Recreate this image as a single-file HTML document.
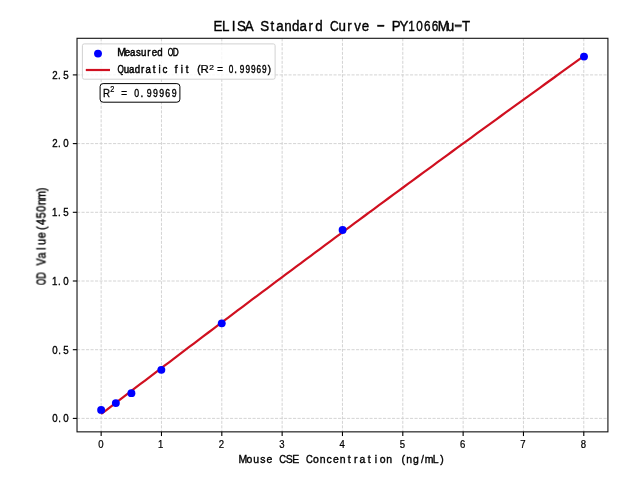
<!DOCTYPE html>
<html><head><meta charset="utf-8"><style>
html,body{margin:0;padding:0;background:#fff;width:640px;height:480px;overflow:hidden}
svg{display:block}
text{will-change:transform}
</style></head><body>
<svg width="640" height="480" viewBox="0 0 640 480">
<rect x="0" y="0" width="640" height="480" fill="#fff"/>
<g stroke="#cfcfcf" stroke-width="0.9" stroke-dasharray="3.1 1.4"><line x1="101.15" y1="38.3" x2="101.15" y2="431.85"/><line x1="161.48" y1="38.3" x2="161.48" y2="431.85"/><line x1="221.81" y1="38.3" x2="221.81" y2="431.85"/><line x1="282.14" y1="38.3" x2="282.14" y2="431.85"/><line x1="342.47" y1="38.3" x2="342.47" y2="431.85"/><line x1="402.80" y1="38.3" x2="402.80" y2="431.85"/><line x1="463.13" y1="38.3" x2="463.13" y2="431.85"/><line x1="523.46" y1="38.3" x2="523.46" y2="431.85"/><line x1="583.79" y1="38.3" x2="583.79" y2="431.85"/><line x1="77.02" y1="418.40" x2="607.92" y2="418.40"/><line x1="77.02" y1="349.70" x2="607.92" y2="349.70"/><line x1="77.02" y1="281.00" x2="607.92" y2="281.00"/><line x1="77.02" y1="212.30" x2="607.92" y2="212.30"/><line x1="77.02" y1="143.60" x2="607.92" y2="143.60"/><line x1="77.02" y1="74.90" x2="607.92" y2="74.90"/></g>
<polyline points="101.15,414.00 106.03,410.27 110.90,406.55 115.78,402.82 120.65,399.10 125.53,395.38 130.40,391.66 135.28,387.95 140.15,384.24 145.03,380.53 149.90,376.82 154.78,373.11 159.65,369.41 164.53,365.71 169.40,362.01 174.28,358.31 179.15,354.62 184.03,350.93 188.90,347.24 193.78,343.55 198.65,339.87 203.53,336.18 208.40,332.50 213.28,328.83 218.15,325.15 223.03,321.48 227.90,317.81 232.78,314.14 237.65,310.48 242.53,306.81 247.40,303.15 252.28,299.49 257.15,295.84 262.03,292.18 266.91,288.53 271.78,284.88 276.66,281.23 281.53,277.59 286.41,273.95 291.28,270.31 296.16,266.67 301.03,263.03 305.91,259.40 310.78,255.77 315.66,252.14 320.53,248.52 325.41,244.89 330.28,241.27 335.16,237.65 340.03,234.04 344.91,230.42 349.78,226.81 354.66,223.20 359.53,219.59 364.41,215.99 369.28,212.39 374.16,208.79 379.03,205.19 383.91,201.59 388.78,198.00 393.66,194.41 398.53,190.82 403.41,187.24 408.28,183.65 413.16,180.07 418.03,176.49 422.91,172.92 427.79,169.34 432.66,165.77 437.54,162.20 442.41,158.63 447.29,155.07 452.16,151.51 457.04,147.95 461.91,144.39 466.79,140.83 471.66,137.28 476.54,133.73 481.41,130.18 486.29,126.63 491.16,123.09 496.04,119.55 500.91,116.01 505.79,112.47 510.66,108.94 515.54,105.41 520.41,101.88 525.29,98.35 530.16,94.83 535.04,91.30 539.91,87.78 544.79,84.26 549.66,80.75 554.54,77.24 559.41,73.73 564.29,70.22 569.16,66.71 574.04,63.21 578.91,59.71 583.79,56.21" fill="none" stroke="#d01020" stroke-width="2.2"/>
<g fill="#0000ff"><circle cx="101.15" cy="409.90" r="3.95"/><circle cx="115.85" cy="403.10" r="3.95"/><circle cx="131.40" cy="393.15" r="3.95"/><circle cx="161.35" cy="369.85" r="3.95"/><circle cx="221.75" cy="323.35" r="3.95"/><circle cx="342.60" cy="230.00" r="3.95"/><circle cx="584.00" cy="56.60" r="3.95"/></g>
<rect x="77.02" y="38.3" width="530.90" height="393.55" fill="none" stroke="#111" stroke-width="1.1"/>
<g stroke="#000" stroke-width="1.1"><line x1="101.15" y1="431.85" x2="101.15" y2="436.05"/><line x1="161.48" y1="431.85" x2="161.48" y2="436.05"/><line x1="221.81" y1="431.85" x2="221.81" y2="436.05"/><line x1="282.14" y1="431.85" x2="282.14" y2="436.05"/><line x1="342.47" y1="431.85" x2="342.47" y2="436.05"/><line x1="402.80" y1="431.85" x2="402.80" y2="436.05"/><line x1="463.13" y1="431.85" x2="463.13" y2="436.05"/><line x1="523.46" y1="431.85" x2="523.46" y2="436.05"/><line x1="583.79" y1="431.85" x2="583.79" y2="436.05"/><line x1="72.82" y1="418.40" x2="77.02" y2="418.40"/><line x1="72.82" y1="349.70" x2="77.02" y2="349.70"/><line x1="72.82" y1="281.00" x2="77.02" y2="281.00"/><line x1="72.82" y1="212.30" x2="77.02" y2="212.30"/><line x1="72.82" y1="143.60" x2="77.02" y2="143.60"/><line x1="72.82" y1="74.90" x2="77.02" y2="74.90"/></g>
<rect x="82.4" y="43.9" width="192.7" height="35.3" rx="1.8" ry="1.8" fill="#fff" fill-opacity="0.8" stroke="#d2d2d2" stroke-width="1"/>
<circle cx="98" cy="53.6" r="3.95" fill="#0000ff"/>
<line x1="85.8" y1="70" x2="110" y2="70" stroke="#d01020" stroke-width="2.2"/>
<rect x="100.1" y="83.6" width="79.8" height="18.6" rx="3" ry="3" fill="#fff" stroke="#000" stroke-width="1"/>
<g transform="translate(0,447.600)" style="font-family:'Liberation Sans',sans-serif;font-size:10.611px;stroke-width:0.25px" fill="#000" stroke="#000"><text transform="translate(98.13,0) scale(0.900,1)">0</text></g>
<g transform="translate(0,447.600)" style="font-family:'Liberation Sans',sans-serif;font-size:10.611px;stroke-width:0.25px" fill="#000" stroke="#000"><text transform="translate(158.10,0) scale(0.900,1)">1</text></g>
<g transform="translate(0,447.600)" style="font-family:'Liberation Sans',sans-serif;font-size:10.611px;stroke-width:0.25px" fill="#000" stroke="#000"><text transform="translate(218.68,0) scale(0.900,1)">2</text></g>
<g transform="translate(0,447.600)" style="font-family:'Liberation Sans',sans-serif;font-size:10.611px;stroke-width:0.25px" fill="#000" stroke="#000"><text transform="translate(279.13,0) scale(0.900,1)">3</text></g>
<g transform="translate(0,447.600)" style="font-family:'Liberation Sans',sans-serif;font-size:10.611px;stroke-width:0.25px" fill="#000" stroke="#000"><text transform="translate(339.60,0) scale(0.900,1)">4</text></g>
<g transform="translate(0,447.600)" style="font-family:'Liberation Sans',sans-serif;font-size:10.611px;stroke-width:0.25px" fill="#000" stroke="#000"><text transform="translate(399.77,0) scale(0.900,1)">5</text></g>
<g transform="translate(0,447.600)" style="font-family:'Liberation Sans',sans-serif;font-size:10.611px;stroke-width:0.25px" fill="#000" stroke="#000"><text transform="translate(460.00,0) scale(0.900,1)">6</text></g>
<g transform="translate(0,447.600)" style="font-family:'Liberation Sans',sans-serif;font-size:10.611px;stroke-width:0.25px" fill="#000" stroke="#000"><text transform="translate(520.32,0) scale(0.900,1)">7</text></g>
<g transform="translate(0,447.600)" style="font-family:'Liberation Sans',sans-serif;font-size:10.611px;stroke-width:0.25px" fill="#000" stroke="#000"><text transform="translate(580.73,0) scale(0.900,1)">8</text></g>
<g transform="translate(0,422.200)" style="font-family:'Liberation Sans',sans-serif;font-size:10.756px;stroke-width:0.35px" fill="#000" stroke="#000"><text transform="translate(52.37,0) scale(0.900,1)">0</text><text transform="translate(58.16,0) scale(0.900,1)">.</text><text transform="translate(63.24,0) scale(0.900,1)">0</text></g>
<g transform="translate(0,353.500)" style="font-family:'Liberation Sans',sans-serif;font-size:10.756px;stroke-width:0.35px" fill="#000" stroke="#000"><text transform="translate(52.37,0) scale(0.900,1)">0</text><text transform="translate(58.16,0) scale(0.900,1)">.</text><text transform="translate(63.27,0) scale(0.900,1)">5</text></g>
<g transform="translate(0,284.800)" style="font-family:'Liberation Sans',sans-serif;font-size:10.756px;stroke-width:0.35px" fill="#000" stroke="#000"><text transform="translate(52.01,0) scale(0.900,1)">1</text><text transform="translate(58.04,0) scale(0.900,1)">.</text><text transform="translate(63.24,0) scale(0.900,1)">0</text></g>
<g transform="translate(0,216.100)" style="font-family:'Liberation Sans',sans-serif;font-size:10.756px;stroke-width:0.35px" fill="#000" stroke="#000"><text transform="translate(52.01,0) scale(0.900,1)">1</text><text transform="translate(58.05,0) scale(0.900,1)">.</text><text transform="translate(63.27,0) scale(0.900,1)">5</text></g>
<g transform="translate(0,147.400)" style="font-family:'Liberation Sans',sans-serif;font-size:10.756px;stroke-width:0.35px" fill="#000" stroke="#000"><text transform="translate(52.26,0) scale(0.900,1)">2</text><text transform="translate(58.10,0) scale(0.900,1)">.</text><text transform="translate(63.24,0) scale(0.900,1)">0</text></g>
<g transform="translate(0,78.700)" style="font-family:'Liberation Sans',sans-serif;font-size:10.756px;stroke-width:0.35px" fill="#000" stroke="#000"><text transform="translate(52.26,0) scale(0.900,1)">2</text><text transform="translate(58.11,0) scale(0.900,1)">.</text><text transform="translate(63.27,0) scale(0.900,1)">5</text></g>
<g transform="translate(0,31.300)" style="font-family:'Liberation Sans',sans-serif;font-size:14.826px;stroke-width:0.4px" fill="#000" stroke="#000"><text transform="translate(213.51,0) scale(0.900,1)">E</text><text transform="translate(221.92,0) scale(0.900,1)">L</text><text transform="translate(231.85,0) scale(0.900,1)">I</text><text transform="translate(237.00,0) scale(0.900,1)">S</text><text transform="translate(244.74,0) scale(0.900,1)">A</text><text transform="translate(260.22,0) scale(0.900,1)">S</text><text transform="translate(270.51,0) scale(0.900,1)">t</text><text transform="translate(276.16,0) scale(0.900,1)">a</text><text transform="translate(284.18,0) scale(0.900,1)">n</text><text transform="translate(292.08,0) scale(0.900,1)">d</text><text transform="translate(299.39,0) scale(0.900,1)">a</text><text transform="translate(308.57,0) scale(0.900,1)">r</text><text transform="translate(315.31,0) scale(0.900,1)">d</text><text transform="translate(329.94,0) scale(0.810,1)">C</text><text transform="translate(338.40,0) scale(0.900,1)">u</text><text transform="translate(347.29,0) scale(0.900,1)">r</text><text transform="translate(354.25,0) scale(0.900,1)">v</text><text transform="translate(361.63,0) scale(0.900,1)">e</text><rect x="377.56" y="-6.22" width="6.50" height="1.45" fill="#000"/><text transform="translate(391.65,0) scale(0.900,1)">P</text><text transform="translate(399.59,0) scale(0.900,1)">Y</text><text transform="translate(408.35,0) scale(0.792,1)">1</text><text transform="translate(416.26,0) scale(0.792,1)">0</text><text transform="translate(423.96,0) scale(0.792,1)">6</text><text transform="translate(431.70,0) scale(0.792,1)">6</text><text transform="translate(437.79,0) scale(0.900,1)">M</text><text transform="translate(446.79,0) scale(0.900,1)">u</text><rect x="454.99" y="-6.22" width="6.50" height="1.45" fill="#000"/><text transform="translate(461.91,0) scale(0.900,1)">T</text></g>
<g transform="translate(0,462.800)" style="font-family:'Liberation Sans',sans-serif;font-size:11.628px;stroke-width:0.4px" fill="#000" stroke="#000"><text transform="translate(238.39,0) scale(0.900,1)">M</text><text transform="translate(246.50,0) scale(0.900,1)">o</text><text transform="translate(253.17,0) scale(0.900,1)">u</text><text transform="translate(260.15,0) scale(0.900,1)">s</text><text transform="translate(266.49,0) scale(0.900,1)">e</text><text transform="translate(279.24,0) scale(0.810,1)">C</text><text transform="translate(285.87,0) scale(0.900,1)">S</text><text transform="translate(292.33,0) scale(0.900,1)">E</text><text transform="translate(305.88,0) scale(0.810,1)">C</text><text transform="translate(313.09,0) scale(0.900,1)">o</text><text transform="translate(319.74,0) scale(0.900,1)">n</text><text transform="translate(326.61,0) scale(0.900,1)">c</text><text transform="translate(333.07,0) scale(0.900,1)">e</text><text transform="translate(339.71,0) scale(0.900,1)">n</text><text transform="translate(347.80,0) scale(0.900,1)">t</text><text transform="translate(353.95,0) scale(0.900,1)">r</text><text transform="translate(359.48,0) scale(0.900,1)">a</text><text transform="translate(367.77,0) scale(0.900,1)">t</text><text transform="translate(374.77,0) scale(0.900,1)">i</text><text transform="translate(379.67,0) scale(0.900,1)">o</text><text transform="translate(386.32,0) scale(0.900,1)">n</text><text transform="translate(401.42,0) scale(0.900,1)">(</text><text transform="translate(406.30,0) scale(0.900,1)">n</text><text transform="translate(413.09,0) scale(0.900,1)">g</text><text transform="translate(421.08,0) scale(0.900,1)">/</text><text transform="translate(424.83,0) scale(0.900,1)">m</text><text transform="translate(432.69,0) scale(0.900,1)">L</text><text transform="translate(440.16,0) scale(0.900,1)">)</text></g>
<g transform="translate(45.500,284.700) rotate(-90)" style="font-family:'Liberation Sans',sans-serif;font-size:11.919px;stroke-width:0.4px" fill="#000" stroke="#000"><text transform="translate(-0.38,0) scale(0.675,1)">O</text><text transform="translate(5.94,0) scale(0.765,1)">D</text><text transform="translate(19.10,0) scale(0.900,1)">V</text><text transform="translate(26.12,0) scale(0.900,1)">a</text><text transform="translate(34.78,0) scale(0.900,1)">l</text><text transform="translate(39.64,0) scale(0.900,1)">u</text><text transform="translate(46.29,0) scale(0.900,1)">e</text><text transform="translate(54.72,0) scale(0.900,1)">(</text><text transform="translate(59.60,0) scale(0.900,1)">4</text><text transform="translate(66.22,0) scale(0.900,1)">5</text><text transform="translate(72.86,0) scale(0.900,1)">0</text><text transform="translate(79.50,0) scale(0.900,1)">n</text><text transform="translate(84.66,0) scale(0.900,1)">m</text><text transform="translate(93.39,0) scale(0.900,1)">)</text></g>
<g transform="translate(0,55.800)" style="font-family:'Liberation Sans',sans-serif;font-size:10.175px;stroke-width:0.45px" fill="#000" stroke="#000"><text transform="translate(117.13,0) scale(1.045,1)">M</text><text transform="translate(124.86,0) scale(0.950,1)">e</text><text transform="translate(130.03,0) scale(0.950,1)">a</text><text transform="translate(135.92,0) scale(0.950,1)">s</text><text transform="translate(141.00,0) scale(0.950,1)">u</text><text transform="translate(147.21,0) scale(0.950,1)">r</text><text transform="translate(151.76,0) scale(0.950,1)">e</text><text transform="translate(157.24,0) scale(0.950,1)">d</text><text transform="translate(167.77,0) scale(0.712,1)">O</text><text transform="translate(172.86,0) scale(0.807,1)">D</text></g>
<g transform="translate(0,73.300)" style="font-family:'Liberation Sans',sans-serif;font-size:10.175px;stroke-width:0.45px" fill="#000" stroke="#000"><text transform="translate(117.61,0) scale(0.807,1)">Q</text><text transform="translate(123.66,0) scale(0.950,1)">u</text><text transform="translate(128.98,0) scale(0.950,1)">a</text><text transform="translate(134.84,0) scale(0.950,1)">d</text><text transform="translate(141.10,0) scale(0.950,1)">r</text><text transform="translate(145.59,0) scale(0.950,1)">a</text><text transform="translate(152.64,0) scale(0.950,1)">t</text><text transform="translate(158.49,0) scale(0.950,1)">i</text><text transform="translate(162.60,0) scale(0.950,1)">c</text><text transform="translate(174.75,0) scale(0.950,1)">f</text><text transform="translate(180.64,0) scale(0.950,1)">i</text><text transform="translate(185.86,0) scale(0.950,1)">t</text><text transform="translate(197.34,0) scale(0.950,1)">(</text></g>
<text transform="translate(200.461,73.400) scale(1.1098,1)" style="font-family:'Liberation Sans',sans-serif;font-size:10.320px;stroke-width:0.25px" fill="#000" stroke="#000">R</text>
<text transform="translate(209.180,69.600) scale(1.3042,1)" style="font-family:'Liberation Sans',sans-serif;font-size:6.395px;stroke-width:0.2px" fill="#000" stroke="#000">2</text>
<g transform="translate(0,73.400)" style="font-family:'Liberation Sans',sans-serif;font-size:10.175px;stroke-width:0.4px" fill="#000" stroke="#000"><text transform="translate(217.13,0) scale(0.950,1)">=</text><text transform="translate(228.77,0) scale(0.807,1)">0</text><text transform="translate(234.26,0) scale(0.950,1)">.</text><text transform="translate(239.87,0) scale(0.807,1)">9</text><text transform="translate(245.43,0) scale(0.807,1)">9</text><text transform="translate(250.98,0) scale(0.807,1)">9</text><text transform="translate(256.50,0) scale(0.807,1)">6</text><text transform="translate(262.08,0) scale(0.807,1)">9</text><text transform="translate(267.68,0) scale(0.950,1)">)</text></g>
<g transform="translate(0,96.600)" style="font-family:'Liberation Sans',sans-serif;font-size:11.483px;stroke-width:0.3px" fill="#000" stroke="#000"><text transform="translate(103.05,0) scale(0.850,1)">R</text></g>
<g transform="translate(0,92.200)" style="font-family:'Liberation Sans',sans-serif;font-size:8.140px;stroke-width:0.25px" fill="#000" stroke="#000"><text transform="translate(110.33,0) scale(0.900,1)">2</text></g>
<g transform="translate(0,96.600)" style="font-family:'Liberation Sans',sans-serif;font-size:11.047px;stroke-width:0.4px" fill="#000" stroke="#000"><text transform="translate(121.21,0) scale(0.900,1)">=</text><text transform="translate(134.17,0) scale(0.792,1)">0</text><text transform="translate(140.47,0) scale(0.900,1)">.</text><text transform="translate(146.67,0) scale(0.792,1)">9</text><text transform="translate(152.91,0) scale(0.792,1)">9</text><text transform="translate(159.16,0) scale(0.792,1)">9</text><text transform="translate(165.37,0) scale(0.792,1)">6</text><text transform="translate(171.65,0) scale(0.792,1)">9</text></g>
</svg>
</body></html>
